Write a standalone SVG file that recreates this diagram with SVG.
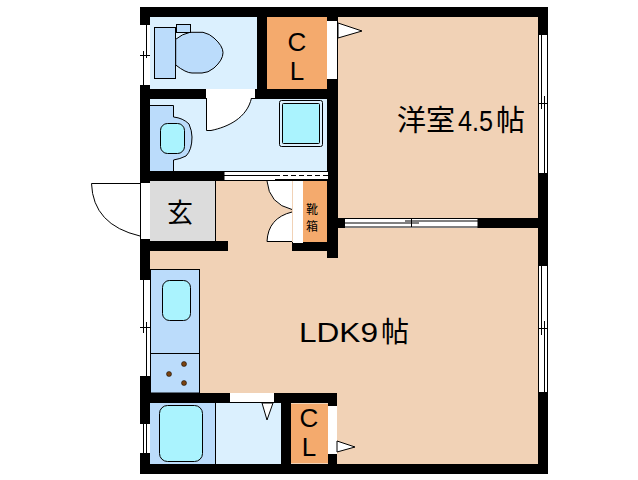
<svg xmlns="http://www.w3.org/2000/svg" width="638" height="480" viewBox="0 0 638 480">
<style>
.wall{fill:#000}
.ln{fill:none;stroke:#000;stroke-width:1}
.fx{fill:#bbdcfb;stroke:#000;stroke-width:1}
.aq{fill:#aaf3fe;stroke:#000;stroke-width:1}
.wh{fill:#fff}
.door{fill:#fff;stroke:#000;stroke-width:1}
text{font-family:"Liberation Sans","Noto Sans CJK JP",sans-serif;fill:#000}
.cj{font-family:"Noto Sans CJK JP","Liberation Sans",sans-serif}
</style>
<rect width="638" height="480" fill="#fff"/>
<g id="floors">
<rect x="145" y="12" width="398" height="457" fill="#f1d2b6"/>
<rect x="150" y="17" width="107" height="72" fill="#dbf0fe"/>
<rect x="150" y="99" width="177" height="72" fill="#dbf0fe"/>
<rect x="216" y="403" width="65" height="61" fill="#dbf0fe"/>
</g>
<g id="walls" class="wall">
<rect x="140" y="7" width="408" height="10"/>
<rect x="140" y="464" width="408" height="10"/>
<rect x="140" y="7" width="10" height="467"/>
<rect x="538" y="7" width="10" height="467"/>
<rect x="257" y="17" width="10" height="72"/>
<rect x="140" y="89" width="198" height="10"/>
<rect x="327" y="7" width="11" height="251"/>
<rect x="140" y="171" width="198" height="10"/>
<rect x="140" y="241" width="88" height="10"/>
<rect x="292" y="242" width="46" height="9"/>
<rect x="338" y="218" width="200" height="10"/>
<rect x="140" y="393" width="197" height="10"/>
<rect x="281" y="403" width="10" height="61"/>
<rect x="328" y="403" width="9" height="61"/>
</g>
<g id="toilet">
<rect x="154.500" y="27.500" width="21" height="51" class="fx"/>
<path d="M175.700 39.300 Q182 34 190 32.300 H203 Q210 34 214 38 Q223 46 223 52.700 Q223 60 214 68 Q208 73 202 73 H192 Q186 73 175.700 65Z" class="fx"/>
<rect x="176.500" y="24.500" width="14" height="8" class="fx"/>
</g>
<g id="closet1">
<rect x="267" y="17" width="60" height="72" fill="#f4aa6d"/>
<text x="297" y="51" font-size="26" text-anchor="middle">C</text>
<text x="297" y="80" font-size="26" text-anchor="middle">L</text>
</g>
<g id="washroom">
<path d="M150 105.500 H173.500 V117 Q183 118 189 124 Q192 131 192 137 Q192 150 186 156 Q180 159 173.500 160 V171 H150Z" fill="#bbdcfb"/>
<path d="M150 105.500 H173.500 V117 Q183 118 189 124 Q192 131 192 137 Q192 150 186 156 Q180 159 173.500 160 V171" class="ln"/>
<rect x="160.500" y="123.500" width="24" height="30" rx="7" class="aq"/>
<rect x="279.500" y="100.500" width="43" height="46" rx="2" fill="none" stroke="#000"/>
<rect x="282.500" y="103.500" width="37" height="40" rx="1" class="aq"/>
</g>
<g id="entry">
<rect x="150" y="181" width="65" height="60" fill="#dcdcdc"/>
<path d="M215.500 181 V241" class="ln"/>
<text x="180" y="222" font-size="26" text-anchor="middle" class="cj">玄</text>
</g>
<g id="shoebox">
<rect x="303" y="181" width="24" height="61" fill="#f4aa6d"/>
<rect x="293" y="181" width="10" height="62" fill="#fff"/>
<text x="312" y="214" font-size="12" text-anchor="middle" class="cj">靴</text>
<text x="312" y="231" font-size="12" text-anchor="middle" class="cj">箱</text>
</g>
<g id="kitchen">
<rect x="150.500" y="269.500" width="49" height="123.500" class="fx"/>
<path d="M150.500 353.500 H199.500" class="ln"/>
<rect x="162.500" y="280.500" width="28" height="40" rx="7" class="aq"/>
<g fill="#7a4310" stroke="#000" stroke-width="0.500">
<circle cx="184" cy="364" r="2.500"/>
<circle cx="169" cy="374" r="2.500"/>
<circle cx="184" cy="383" r="2.500"/>
</g>
</g>
<g id="bath">
<rect x="150" y="403" width="65.500" height="61" fill="#bbdcfb"/>
<path d="M215.500 403 V464" class="ln"/>
<rect x="159.500" y="405.500" width="43" height="56" rx="8" class="aq"/>
</g>
<g id="closet2">
<rect x="291" y="404" width="37" height="59" fill="#f4aa6d"/>
<text x="309" y="427" font-size="26" text-anchor="middle">C</text>
<text x="309" y="456" font-size="26" text-anchor="middle">L</text>
</g>
<g id="connectors">
<rect x="206" y="89" width="49" height="9" class="wh"/>
<path d="M206.500 98 V130.500 H211 C228 127 247 118 251.500 98" class="door"/>
<rect x="327" y="21" width="10" height="58" class="wh"/>
<path d="M338 23 L362 31 L338 38Z" class="door"/>
<rect x="224" y="171" width="104" height="10" class="wh"/>
<path d="M224 171.500 H328 M224 175.500 H275 M224 180.500 H275" class="ln"/>
<path d="M275 175.500 H328" fill="none" stroke="#000" stroke-dasharray="5 3"/>
<rect x="275" y="179" width="53" height="2"/>
<path d="M224 171 V181" class="ln"/>
<rect x="141" y="183" width="9" height="56" class="wh"/>
<path d="M140 183.500 H91.500 Q93 225 140 236" class="door"/>
<path d="M267 181 Q269 204 292 209.500 V181Z" fill="#fff"/>
<path d="M267 181 Q269 204 292 209.500" class="ln"/>
<path d="M267 241.500 Q268 218 292 212 V241.500Z" fill="#fff"/>
<path d="M267 241.500 Q268 218 292 212 M267 241.500 H292" class="ln"/>
<rect x="345" y="218" width="133" height="10" class="wh"/>
<path d="M345 218.500 H478 M405 221 H478 M345 223 H419 M345 227 H478 M411.500 218 V227 M478 218 V228" class="ln"/>
<rect x="230" y="393" width="44" height="10" class="wh"/>
<path d="M230 402.500 H274" class="ln"/>
<path d="M262 403 L273 403 L267 420Z" class="door"/>
<rect x="328" y="406" width="9" height="48" class="wh"/>
<path d="M337 441 L355 447 L337 452Z" class="door"/>
</g>
<g id="windows">
<g>
<rect x="140" y="24" width="10" height="62" class="wh"/>
<path d="M143.500 51 V86 M146.500 24 V58 M140 24.500 H150 M140 85.500 H150 M140 55.500 H150" class="ln"/>
</g>
<g>
<rect x="140" y="279" width="10" height="97" class="wh"/>
<path d="M143.500 279 V333 M146.500 322 V376 M140 279.500 H150 M140 327.500 H150" class="ln"/>
</g>
<g>
<rect x="140" y="423" width="10" height="30" class="wh"/>
<path d="M143.500 423 V453 M146.500 423 V453 M140 423.500 H150" class="ln"/>
</g>
<g>
<rect x="538" y="34" width="10" height="139" class="wh"/>
<path d="M538.500 34 V173 M541.500 34 V109 M544.500 96 V173 M547.500 34 V173 M538 34.500 H548 M538 103.500 H548" class="ln"/>
</g>
<g>
<rect x="538" y="265" width="10" height="127" class="wh"/>
<path d="M538.500 265 V392 M541.500 265 V335 M544.500 321 V392 M547.500 265 V392 M538 265.500 H548 M538 328.500 H548" class="ln"/>
</g>
</g>
<g id="labels">
<text x="397" y="131" font-size="29" class="cj">洋室</text>
<text x="458" y="131" font-size="29" textLength="35" lengthAdjust="spacingAndGlyphs">4.5</text>
<text x="496" y="131" font-size="29" class="cj">帖</text>
<text x="299" y="342" font-size="28" textLength="79" lengthAdjust="spacingAndGlyphs">LDK9</text>
<text x="381" y="342" font-size="28" class="cj">帖</text>
</g>
</svg>
